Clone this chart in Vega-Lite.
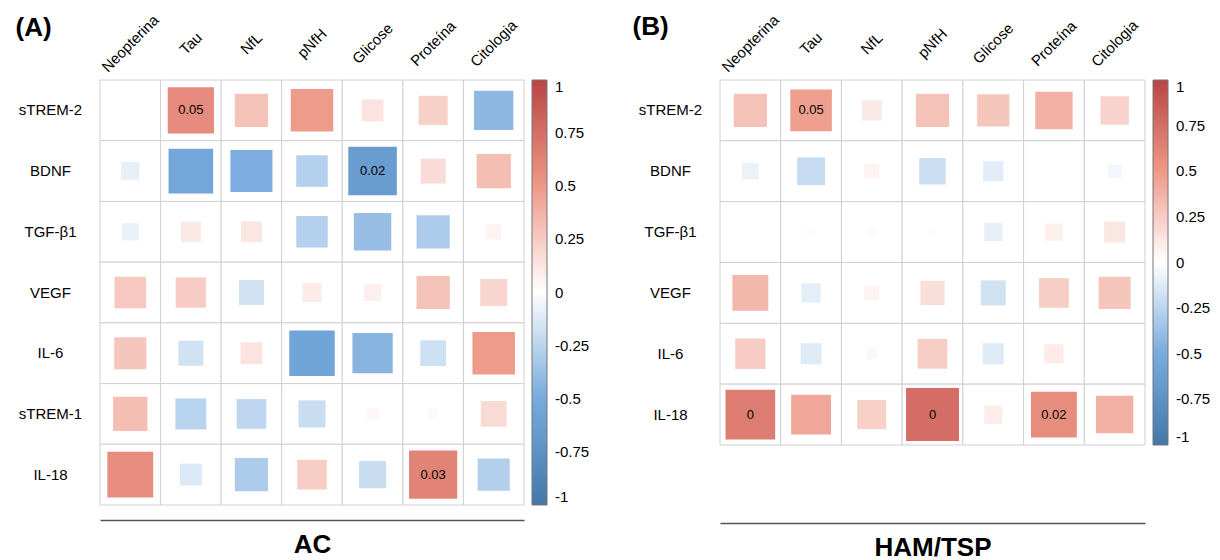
{
  "$schema": "https://vega.github.io/schema/vega-lite/v6.json",
  "padding": {"left": 15, "top": 12, "right": 0, "bottom": 0},
  "background": "white",
  "config": {
    "view": {"stroke": null},
    "font": "Liberation Sans",
    "axis": {"labelFont": "Liberation Sans", "titleFont": "Liberation Sans", "labelColor": "black", "titleColor": "black", "grid": false},
    "legend": {"labelFont": "Liberation Sans", "labelColor": "black"},
    "text": {"font": "Liberation Sans"}
  },
  "datasets": {
    "ac": [
      {"row": "sTREM-2", "col": "Neopterina", "r": 0},
      {"row": "sTREM-2", "col": "Tau", "r": 0.58, "p": "0.05"},
      {"row": "sTREM-2", "col": "NfL", "r": 0.30},
      {"row": "sTREM-2", "col": "pNfH", "r": 0.49},
      {"row": "sTREM-2", "col": "Glicose", "r": 0.13},
      {"row": "sTREM-2", "col": "Proteína", "r": 0.23},
      {"row": "sTREM-2", "col": "Citologia", "r": -0.42},
      {"row": "BDNF", "col": "Neopterina", "r": -0.09},
      {"row": "BDNF", "col": "Tau", "r": -0.54},
      {"row": "BDNF", "col": "NfL", "r": -0.48},
      {"row": "BDNF", "col": "pNfH", "r": -0.27},
      {"row": "BDNF", "col": "Glicose", "r": -0.64, "p": "0.02"},
      {"row": "BDNF", "col": "Proteína", "r": 0.17},
      {"row": "BDNF", "col": "Citologia", "r": 0.32},
      {"row": "TGF-β1", "col": "Neopterina", "r": -0.08},
      {"row": "TGF-β1", "col": "Tau", "r": 0.11},
      {"row": "TGF-β1", "col": "NfL", "r": 0.12},
      {"row": "TGF-β1", "col": "pNfH", "r": -0.27},
      {"row": "TGF-β1", "col": "Glicose", "r": -0.38},
      {"row": "TGF-β1", "col": "Proteína", "r": -0.30},
      {"row": "TGF-β1", "col": "Citologia", "r": 0.06},
      {"row": "VEGF", "col": "Neopterina", "r": 0.27},
      {"row": "VEGF", "col": "Tau", "r": 0.25},
      {"row": "VEGF", "col": "NfL", "r": -0.17},
      {"row": "VEGF", "col": "pNfH", "r": 0.10},
      {"row": "VEGF", "col": "Glicose", "r": 0.08},
      {"row": "VEGF", "col": "Proteína", "r": 0.30},
      {"row": "VEGF", "col": "Citologia", "r": 0.20},
      {"row": "IL-6", "col": "Neopterina", "r": 0.28},
      {"row": "IL-6", "col": "Tau", "r": -0.17},
      {"row": "IL-6", "col": "NfL", "r": 0.13},
      {"row": "IL-6", "col": "pNfH", "r": -0.56},
      {"row": "IL-6", "col": "Glicose", "r": -0.44},
      {"row": "IL-6", "col": "Proteína", "r": -0.18},
      {"row": "IL-6", "col": "Citologia", "r": 0.49},
      {"row": "sTREM-1", "col": "Neopterina", "r": 0.32},
      {"row": "sTREM-1", "col": "Tau", "r": -0.26},
      {"row": "sTREM-1", "col": "NfL", "r": -0.24},
      {"row": "sTREM-1", "col": "pNfH", "r": -0.20},
      {"row": "sTREM-1", "col": "Glicose", "r": 0.04},
      {"row": "sTREM-1", "col": "Proteína", "r": 0.03},
      {"row": "sTREM-1", "col": "Citologia", "r": 0.18},
      {"row": "IL-18", "col": "Neopterina", "r": 0.57},
      {"row": "IL-18", "col": "Tau", "r": -0.13},
      {"row": "IL-18", "col": "NfL", "r": -0.30},
      {"row": "IL-18", "col": "pNfH", "r": 0.24},
      {"row": "IL-18", "col": "Glicose", "r": -0.20},
      {"row": "IL-18", "col": "Proteína", "r": 0.63, "p": "0.03"},
      {"row": "IL-18", "col": "Citologia", "r": -0.28}
    ],
    "ham": [
      {"row": "sTREM-2", "col": "Neopterina", "r": 0.30},
      {"row": "sTREM-2", "col": "Tau", "r": 0.47, "p": "0.05"},
      {"row": "sTREM-2", "col": "NfL", "r": 0.11},
      {"row": "sTREM-2", "col": "pNfH", "r": 0.30},
      {"row": "sTREM-2", "col": "Glicose", "r": 0.28},
      {"row": "sTREM-2", "col": "Proteína", "r": 0.38},
      {"row": "sTREM-2", "col": "Citologia", "r": 0.22},
      {"row": "BDNF", "col": "Neopterina", "r": -0.075},
      {"row": "BDNF", "col": "Tau", "r": -0.21},
      {"row": "BDNF", "col": "NfL", "r": 0.06},
      {"row": "BDNF", "col": "pNfH", "r": -0.19},
      {"row": "BDNF", "col": "Glicose", "r": -0.11},
      {"row": "BDNF", "col": "Proteína", "r": 0.005},
      {"row": "BDNF", "col": "Citologia", "r": -0.05},
      {"row": "TGF-β1", "col": "Neopterina", "r": 0.003},
      {"row": "TGF-β1", "col": "Tau", "r": 0.02},
      {"row": "TGF-β1", "col": "NfL", "r": -0.02},
      {"row": "TGF-β1", "col": "pNfH", "r": 0.02},
      {"row": "TGF-β1", "col": "Glicose", "r": -0.09},
      {"row": "TGF-β1", "col": "Proteína", "r": 0.08},
      {"row": "TGF-β1", "col": "Citologia", "r": 0.12},
      {"row": "VEGF", "col": "Neopterina", "r": 0.35},
      {"row": "VEGF", "col": "Tau", "r": -0.10},
      {"row": "VEGF", "col": "NfL", "r": 0.06},
      {"row": "VEGF", "col": "pNfH", "r": 0.16},
      {"row": "VEGF", "col": "Glicose", "r": -0.17},
      {"row": "VEGF", "col": "Proteína", "r": 0.24},
      {"row": "VEGF", "col": "Citologia", "r": 0.28},
      {"row": "IL-6", "col": "Neopterina", "r": 0.25},
      {"row": "IL-6", "col": "Tau", "r": -0.12},
      {"row": "IL-6", "col": "NfL", "r": -0.03},
      {"row": "IL-6", "col": "pNfH", "r": 0.24},
      {"row": "IL-6", "col": "Glicose", "r": -0.12},
      {"row": "IL-6", "col": "Proteína", "r": 0.10},
      {"row": "IL-6", "col": "Citologia", "r": 0.005},
      {"row": "IL-18", "col": "Neopterina", "r": 0.67, "p": "0"},
      {"row": "IL-18", "col": "Tau", "r": 0.43},
      {"row": "IL-18", "col": "NfL", "r": 0.23},
      {"row": "IL-18", "col": "pNfH", "r": 0.76, "p": "0"},
      {"row": "IL-18", "col": "Glicose", "r": 0.09},
      {"row": "IL-18", "col": "Proteína", "r": 0.57, "p": "0.02"},
      {"row": "IL-18", "col": "Citologia", "r": 0.38}
    ]
  },
  "resolve": {"scale": {"color": "independent", "size": "independent"}, "legend": {"color": "independent"}},
  "spacing": 42,
  "hconcat": [
    {
      "width": 424,
      "height": 425,
      "data": {"name": "ac"},
      "resolve": {"axis": {"x": "independent", "y": "independent"}},
      "layer": [
        {
          "mark": {"type": "rect", "fill": "white", "stroke": "#d0d0d0", "strokeWidth": 1},
          "encoding": {
            "x": {"field": "col", "type": "nominal", "sort": ["Neopterina", "Tau", "NfL", "pNfH", "Glicose", "Proteína", "Citologia"], "scale": {"paddingInner": 0, "paddingOuter": 0},
              "axis": {"orient": "top", "title": null, "labelAngle": -45, "labelAlign": "center", "labelBaseline": "middle", "labelPadding": 37, "ticks": false, "domain": false, "labelFontSize": 15}},
            "y": {"field": "row", "type": "nominal", "sort": ["sTREM-2", "BDNF", "TGF-β1", "VEGF", "IL-6", "sTREM-1", "IL-18"], "scale": {"paddingInner": 0, "paddingOuter": 0},
              "axis": {"orient": "left", "title": "(A)", "titleAngle": 0, "titleX": -85, "titleY": -53, "titleAlign": "left", "titleBaseline": "middle", "titleFontSize": 26, "titleFontWeight": "bold", "labelAlign": "center", "labelBaseline": "middle", "labelPadding": 50, "ticks": false, "domain": false, "labelFontSize": 15}}
          }
        },
        {
          "mark": {"type": "square", "filled": true, "opacity": 1},
          "encoding": {
            "x": {"field": "col", "type": "nominal", "sort": ["Neopterina", "Tau", "NfL", "pNfH", "Glicose", "Proteína", "Citologia"],
              "axis": {"orient": "bottom", "labels": false, "ticks": false, "domain": true, "domainColor": "#555555", "domainWidth": 1.5, "offset": 15, "title": "AC", "titleFontSize": 26, "titleFontWeight": "bold", "titlePadding": 11}},
            "y": {"field": "row", "type": "nominal", "sort": ["sTREM-2", "BDNF", "TGF-β1", "VEGF", "IL-6", "sTREM-1", "IL-18"], "axis": null},
            "color": {"field": "r", "type": "quantitative",
              "scale": {"type": "linear", "domain": [-1, -0.5, 0, 0.5, 1], "range": ["#4477AA", "#77AADD", "#FFFFFF", "#EE9988", "#BB4444"], "interpolate": "rgb"},
              "legend": {"title": null, "orient": "right", "offset": 8, "direction": "vertical", "gradientLength": 425, "gradientThickness": 15, "values": [1, 0.75, 0.5, 0.25, 0, -0.25, -0.5, -0.75, -1], "labelExpr": "toString(datum.value)", "labelFontSize": 15, "labelOffset": 8, "labelBaseline": "middle", "labelOverlap": false, "gradientStrokeColor": "#777777", "gradientStrokeWidth": 1}},
            "size": {"field": "r", "type": "quantitative", "scale": {"type": "linear", "domain": [-1, 0, 1], "range": [3685, 0, 3685]}, "legend": null}
          }
        },
        {
          "transform": [{"filter": "datum.p != null"}],
          "mark": {"type": "text", "fontSize": 13, "color": "black"},
          "encoding": {
            "x": {"field": "col", "type": "nominal", "sort": ["Neopterina", "Tau", "NfL", "pNfH", "Glicose", "Proteína", "Citologia"], "axis": null},
            "y": {"field": "row", "type": "nominal", "sort": ["sTREM-2", "BDNF", "TGF-β1", "VEGF", "IL-6", "sTREM-1", "IL-18"], "axis": null},
            "text": {"field": "p", "type": "nominal"}
          }
        }
      ]
    },
    {
      "width": 425,
      "height": 365,
      "data": {"name": "ham"},
      "resolve": {"axis": {"x": "independent", "y": "independent"}},
      "layer": [
        {
          "mark": {"type": "rect", "fill": "white", "stroke": "#d0d0d0", "strokeWidth": 1},
          "encoding": {
            "x": {"field": "col", "type": "nominal", "sort": ["Neopterina", "Tau", "NfL", "pNfH", "Glicose", "Proteína", "Citologia"], "scale": {"paddingInner": 0, "paddingOuter": 0},
              "axis": {"orient": "top", "title": null, "labelAngle": -45, "labelAlign": "center", "labelBaseline": "middle", "labelPadding": 37, "ticks": false, "domain": false, "labelFontSize": 15}},
            "y": {"field": "row", "type": "nominal", "sort": ["sTREM-2", "BDNF", "TGF-β1", "VEGF", "IL-6", "IL-18"], "scale": {"paddingInner": 0, "paddingOuter": 0},
              "axis": {"orient": "left", "title": "(B)", "titleAngle": 0, "titleX": -88, "titleY": -54, "titleAlign": "left", "titleBaseline": "middle", "titleFontSize": 26, "titleFontWeight": "bold", "labelAlign": "center", "labelBaseline": "middle", "labelPadding": 50, "ticks": false, "domain": false, "labelFontSize": 15}}
          }
        },
        {
          "mark": {"type": "square", "filled": true, "opacity": 1},
          "encoding": {
            "x": {"field": "col", "type": "nominal", "sort": ["Neopterina", "Tau", "NfL", "pNfH", "Glicose", "Proteína", "Citologia"],
              "axis": {"orient": "bottom", "labels": false, "ticks": false, "domain": true, "domainColor": "#555555", "domainWidth": 1.5, "offset": 78, "title": "HAM/TSP", "titleFontSize": 26, "titleFontWeight": "bold", "titlePadding": 11}},
            "y": {"field": "row", "type": "nominal", "sort": ["sTREM-2", "BDNF", "TGF-β1", "VEGF", "IL-6", "IL-18"], "axis": null},
            "color": {"field": "r", "type": "quantitative",
              "scale": {"type": "linear", "domain": [-1, -0.5, 0, 0.5, 1], "range": ["#4477AA", "#77AADD", "#FFFFFF", "#EE9988", "#BB4444"], "interpolate": "rgb"},
              "legend": {"title": null, "orient": "right", "offset": 8, "direction": "vertical", "gradientLength": 365, "gradientThickness": 15, "values": [1, 0.75, 0.5, 0.25, 0, -0.25, -0.5, -0.75, -1], "labelExpr": "toString(datum.value)", "labelFontSize": 15, "labelOffset": 8, "labelBaseline": "middle", "labelOverlap": false, "gradientStrokeColor": "#777777", "gradientStrokeWidth": 1}},
            "size": {"field": "r", "type": "quantitative", "scale": {"type": "linear", "domain": [-1, 0, 1], "range": [3685, 0, 3685]}, "legend": null}
          }
        },
        {
          "transform": [{"filter": "datum.p != null"}],
          "mark": {"type": "text", "fontSize": 13, "color": "black"},
          "encoding": {
            "x": {"field": "col", "type": "nominal", "sort": ["Neopterina", "Tau", "NfL", "pNfH", "Glicose", "Proteína", "Citologia"], "axis": null},
            "y": {"field": "row", "type": "nominal", "sort": ["sTREM-2", "BDNF", "TGF-β1", "VEGF", "IL-6", "IL-18"], "axis": null},
            "text": {"field": "p", "type": "nominal"}
          }
        }
      ]
    }
  ]
}
